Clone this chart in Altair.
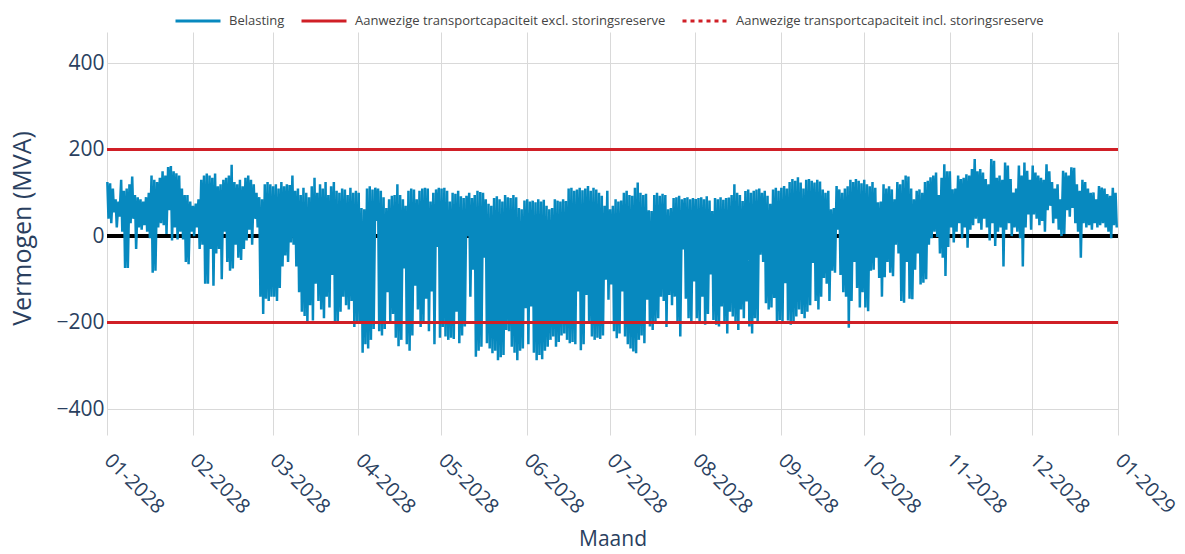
import altair as alt
import pandas as pd

# Daily load readings (MVA): night peak (hi) and midday trough (lo)
jan_hi = [125,122,110,85,80,130,105,110,120,138,95,90,85,80,90,100,140,130,125,135,150,140,160,162,150,145,140,110,95,95,80]
jan_lo = [40,30,55,20,45,10,-74,-74,30,40,-30,20,15,25,10,-5,-85,-80,20,30,25,5,60,-10,20,-8,10,-8,-60,-65,10]
feb_hi = [70,75,85,130,140,145,140,135,145,115,120,130,135,140,165,125,120,130,115,135,140,130,120,100,90,85,120,125,120]
feb_lo = [0,20,-30,-20,-110,-110,-30,-115,-40,-30,-100,10,-60,-80,-75,-20,-50,-55,-30,-10,15,-20,40,20,-140,-180,-145,-150,-140]
mar_hi = [115,120,110,125,115,120,118,140,105,110,95,112,100,90,115,135,100,120,110,125,95,115,125,105,100,110,108,95,112,100,105]
mar_lo = [-140,-150,-120,-70,-45,-60,-15,-20,-70,-130,-175,-185,-200,-160,-195,-110,-150,-170,-190,-140,-165,-90,-200,-200,-175,-140,-160,-170,-150,-210,-200]
apr_hi = [100,65,62,110,115,108,112,110,105,90,65,85,93,95,120,95,85,70,105,110,108,85,105,110,112,110,80,100,108,112]
apr_lo = [-200,-270,-250,-260,-240,-215,35,-220,-230,-215,-130,-200,-180,-235,-255,-240,-75,-250,-265,-230,-115,-170,-210,-200,-145,-220,-128,-250,-25,-235]
may_hi = [110,112,105,80,100,98,105,92,88,93,100,88,95,105,102,100,85,75,70,88,92,85,80,95,90,88,95,90,65,62,82]
may_lo = [-210,-232,-240,-235,-238,-175,-248,-230,-209,0,-140,-78,-279,-265,-256,-50,-248,-260,-271,-265,-287,-280,-275,-217,-220,-256,-270,-287,-265,-260,-167]
jun_hi = [85,80,82,78,85,80,84,70,62,65,85,82,80,85,81,110,112,105,108,112,106,110,116,105,112,108,100,93,70,105]
jun_lo = [-250,-163,-270,-287,-275,-285,-265,-256,-240,-232,-256,-245,-230,-225,-240,-248,-245,-250,-128,-264,-250,-136,-200,-232,-240,-235,-238,-230,-101,-147]
jul_hi = [62,70,85,80,82,100,105,95,93,112,124,100,95,98,60,58,95,100,93,98,95,62,65,88,90,93,85,88,90,85,88]
jul_lo = [-112,-220,-236,-225,-128,-232,-250,-260,-267,-271,-240,-230,-248,-147,-209,-217,-200,-190,-140,-150,-210,-136,-160,-140,-200,-232,-31,-145,-190,-200,-105]
aug_hi = [86,88,90,85,92,82,58,88,85,90,84,88,89,95,120,100,95,81,104,108,100,105,108,110,100,105,93,75,108,112,105]
aug_lo = [-190,-200,-140,-205,-180,-89,-194,-205,-209,-163,-200,-225,-175,-186,-200,-217,-170,-190,-151,-209,-225,-190,-200,-43,-60,-155,-170,-165,-143,-200,-194]
sep_hi = [112,116,110,125,132,128,136,124,110,130,132,128,124,130,126,108,100,105,62,65,116,108,100,110,115,130,125,132,128,122]
sep_lo = [-200,-109,-195,-205,-200,-186,-170,-180,-190,-175,-160,-62,-150,-170,-140,-97,-110,-150,-80,-85,15,-90,-130,-140,-212,-150,-60,-120,-165,-130]
oct_hi = [130,120,115,125,112,78,80,120,110,115,108,85,125,120,130,140,138,110,85,105,108,100,125,128,136,140,147,95,135,166,150]
oct_lo = [-165,-174,-80,-78,-50,-97,-140,-95,-60,-85,-93,-20,-40,-150,-154,-60,-145,-146,-78,-40,-112,-108,-100,-20,-5,10,-2,-40,-50,-92,-25]
nov_hi = [150,108,110,140,132,135,143,140,155,178,150,155,147,132,120,178,174,135,140,130,170,163,132,101,110,163,140,170,151,130]
nov_lo = [20,-15,10,30,-5,20,-27,15,25,40,30,15,40,20,-10,30,-23,10,20,-70,15,30,0,20,10,-5,-70,20,50,15]
dec_hi = [163,147,140,135,130,166,150,125,110,120,85,151,147,140,159,158,120,105,130,125,110,100,101,85,116,112,110,97,93,112,100]
dec_lo = [50,40,25,35,10,60,70,30,40,15,0,5,60,45,65,30,10,-50,30,20,25,15,30,20,25,30,20,10,-5,25,20]

series_names = [
    "Belasting",
    "Aanwezige transportcapaciteit excl. storingsreserve",
    "Aanwezige transportcapaciteit incl. storingsreserve",
]
cap_excl = [200, -200]
cap_incl = [200, -200]
y_ticks = [-400, -200, 0, 200, 400]
month_ticks = [(2028, m) for m in range(1, 13)] + [(2029, 1)]

BLUE = "#0789bf"
RED = "#d01f26"
TXT = "#2a3f5f"
FONT = "Open Sans"

his = [jan_hi, feb_hi, mar_hi, apr_hi, may_hi, jun_hi, jul_hi, aug_hi, sep_hi, oct_hi, nov_hi, dec_hi]
los = [jan_lo, feb_lo, mar_lo, apr_lo, may_lo, jun_lo, jul_lo, aug_lo, sep_lo, oct_lo, nov_lo, dec_lo]

rows = []
base = pd.Timestamp("2028-01-01")
day = 0
for mh, ml in zip(his, los):
    for h, l in zip(mh, ml):
        d0 = base + pd.Timedelta(days=day)
        rows.append({"t": (d0 + pd.Timedelta(hours=3)).strftime("%Y-%m-%dT%H:%M:%S"), "v": h, "s": series_names[0]})
        rows.append({"t": (d0 + pd.Timedelta(hours=13)).strftime("%Y-%m-%dT%H:%M:%S"), "v": l, "s": series_names[0]})
        day += 1
load = pd.DataFrame(rows)

cap_rows = []
for name, levels in [(series_names[1], cap_excl), (series_names[2], cap_incl)]:
    for i, lv in enumerate(levels):
        for t in ["2028-01-01T00:00:00", "2029-01-01T00:00:00"]:
            cap_rows.append({"t": t, "v": lv, "s": name, "part": f"{name}-{i}"})
caps = pd.DataFrame(cap_rows)

x_enc = alt.X(
    "t:T",
    scale=alt.Scale(domain=[alt.DateTime(year=2028, month=1, date=1), alt.DateTime(year=2029, month=1, date=1)]),
    axis=alt.Axis(
        values=[alt.DateTime(year=y, month=m, date=1) for y, m in month_ticks],
        format="%m-%Y", formatType="time",
        labelAngle=45, labelAlign="left", labelBaseline="middle",
        labelFontSize=20, labelFont=FONT, labelColor=TXT, labelPadding=22,
        labelOverlap=False, labelFlush=False,
        grid=True, gridColor="#d9d9d9", gridWidth=1,
        domain=False, ticks=False, tickSize=0,
        title="Maand", titleFont=FONT, titleFontSize=21, titleColor=TXT, titleFontWeight="normal",
        titleX=505.5, titleY=110, titleAlign="center", titleBaseline="alphabetic",
    ),
)
y_enc = alt.Y(
    "v:Q",
    scale=alt.Scale(domain=[-460, 472], nice=False, zero=False),
    axis=alt.Axis(
        values=y_ticks,
        labelFontSize=21, labelFont=FONT, labelColor=TXT, labelPadding=3,
        grid=True, gridColor="#d9d9d9", gridWidth=1,
        domain=False, ticks=False, tickSize=0,
        title="Vermogen (MVA)", titleFont=FONT, titleFontSize=25, titleColor=TXT, titleFontWeight="normal",
        titleAngle=270, titleX=-85, titleY=196, titleAlign="center", titleBaseline="middle",
    ),
)

legend = alt.Legend(
    title=None, orient="none", legendX=67, legendY=-35, direction="horizontal",
    symbolType="stroke", symbolSize=2025, symbolStrokeWidth=3,
    labelFont=FONT, labelFontSize=13, labelColor="#444444", labelLimit=500,
    labelOffset=7, columnPadding=10, padding=0,
)
color_enc = alt.Color("s:N", scale=alt.Scale(domain=series_names, range=[BLUE, RED, RED]), legend=legend)
dash_enc = alt.StrokeDash("s:N", scale=alt.Scale(domain=series_names, range=[[1, 0], [1, 0], [4, 4]]), legend=legend)

zero = alt.Chart(load).mark_rule(color="black", strokeWidth=3).encode(y=alt.datum(0))

load_line = alt.Chart(load).mark_line(strokeWidth=2.5).encode(
    x=x_enc, y=y_enc, color=color_enc, strokeDash=dash_enc
)
incl_line = alt.Chart(caps[caps["s"] == series_names[2]]).mark_line(strokeWidth=3).encode(
    x="t:T", y="v:Q", color=color_enc, strokeDash=dash_enc, detail="part:N"
)
excl_line = alt.Chart(caps[caps["s"] == series_names[1]]).mark_line(strokeWidth=3).encode(
    x="t:T", y="v:Q", color=color_enc, strokeDash=dash_enc, detail="part:N"
)

chart = alt.layer(zero, load_line, incl_line, excl_line).properties(
    width=1011, height=403,
    autosize=alt.AutoSizeParams(type="none"),
    padding={"left": 99, "top": 24, "right": 59, "bottom": 112},
    background="white",
).configure_view(stroke=None)

chart.save("out.html", embed_options={"renderer": "svg", "actions": False})
